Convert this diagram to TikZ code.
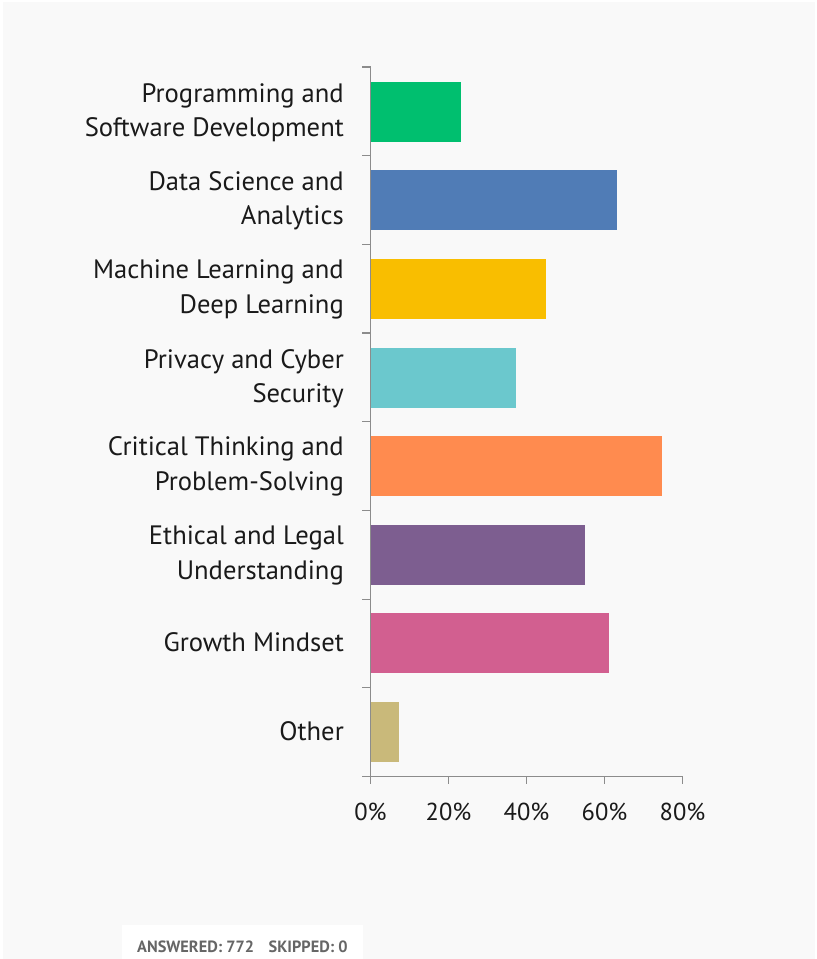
\documentclass[tikz,border=0pt]{standalone}
\usepackage{fontspec}
\setmainfont{PT Sans}
\definecolor{bg}{HTML}{F9F9F9}
\definecolor{axisc}{HTML}{8C8C8C}
\definecolor{txt}{HTML}{1A1A1A}
\definecolor{anstxt}{HTML}{666666}
\definecolor{cA}{HTML}{00BF6F}
\definecolor{cB}{HTML}{507CB6}
\definecolor{cC}{HTML}{F9BE00}
\definecolor{cD}{HTML}{6BC8CD}
\definecolor{cE}{HTML}{FF8B4F}
\definecolor{cF}{HTML}{7D5E90}
\definecolor{cG}{HTML}{D25F90}
\definecolor{cH}{HTML}{C9B97A}
\tikzset{
  catlabel/.style={anchor=east, align=right, text=txt, font=\fontsize{26.6}{34.5}\selectfont, inner sep=0pt},
  ticklabel/.style={anchor=base, text=txt, font=\fontsize{24.5}{30}\selectfont, inner sep=0pt},
  axisline/.style={draw=axisc, line width=1.2pt},
}
\begin{document}
\begin{tikzpicture}[x=1pt,y=-1pt]
\useasboundingbox (0,0) rectangle (817,959);
\fill[white] (0,0) rectangle (817,959);
\fill[bg] (3,2) rectangle (815,959);
% bars (x0 = 370.5, 20% = 78px)
\def\bx{370.5}
\foreach \v/\t/\c/\n in {23.2/82/cA/b1, 63.2/170/cB/b2, 45/259/cC/b3, 37.3/348/cD/b4, 74.7/436/cE/b5, 55.1/525/cF/b6, 61.1/613/cG/b7, 7.3/702/cH/b8}{
  \fill[\c] (\bx,\t) rectangle ({\bx+\v*3.9},\t+60);
}
% axes
\coordinate (ytop) at (\bx,67);
\coordinate (origin) at (\bx,776.5);
\coordinate (xend) at (683,776.5);
\draw[axisline] (ytop) -- (origin) -- (xend);
\foreach \i in {0,...,8}{
  \draw[axisline] (362,{67+\i*88.6875}) -- (\bx,{67+\i*88.6875});
}
\foreach \i/\l in {0/0\%,1/20\%,2/40\%,3/60\%,4/80\%}{
  \draw[axisline] ({\bx+\i*78},776.5) -- ({\bx+\i*78},784);
  \node[ticklabel] (t\i) at ({\bx+\i*78},820.5) {\l};
}
% category labels
\node[catlabel] (l1) at (344,112.5) {Programming and\\Software Development};
\node[catlabel] (l2) at (344,201) {Data Science and\\Analytics};
\node[catlabel] (l3) at (344,289.5) {Machine Learning and\\Deep Learning};
\node[catlabel] (l4) at (344,378.5) {Privacy and Cyber\\Security};
\node[catlabel] (l5) at (344,466.5) {Critical Thinking and\\Problem-Solving};
\node[catlabel] (l6) at (344,555.5) {Ethical and Legal\\Understanding};
\node[catlabel] (l7) at (344,642.5) {Growth Mindset};
\node[catlabel] (l8) at (344,731.5) {Other};
% answered box
\fill[white] (122,925) rectangle (363,959);
\node[anchor=base west, inner sep=0pt, text=anstxt, font=\fontsize{16.3}{19}\selectfont\bfseries] (ans) at (137,952) {ANSWERED: 772\hspace{0.9em}SKIPPED: 0};
\end{tikzpicture}
\end{document}
